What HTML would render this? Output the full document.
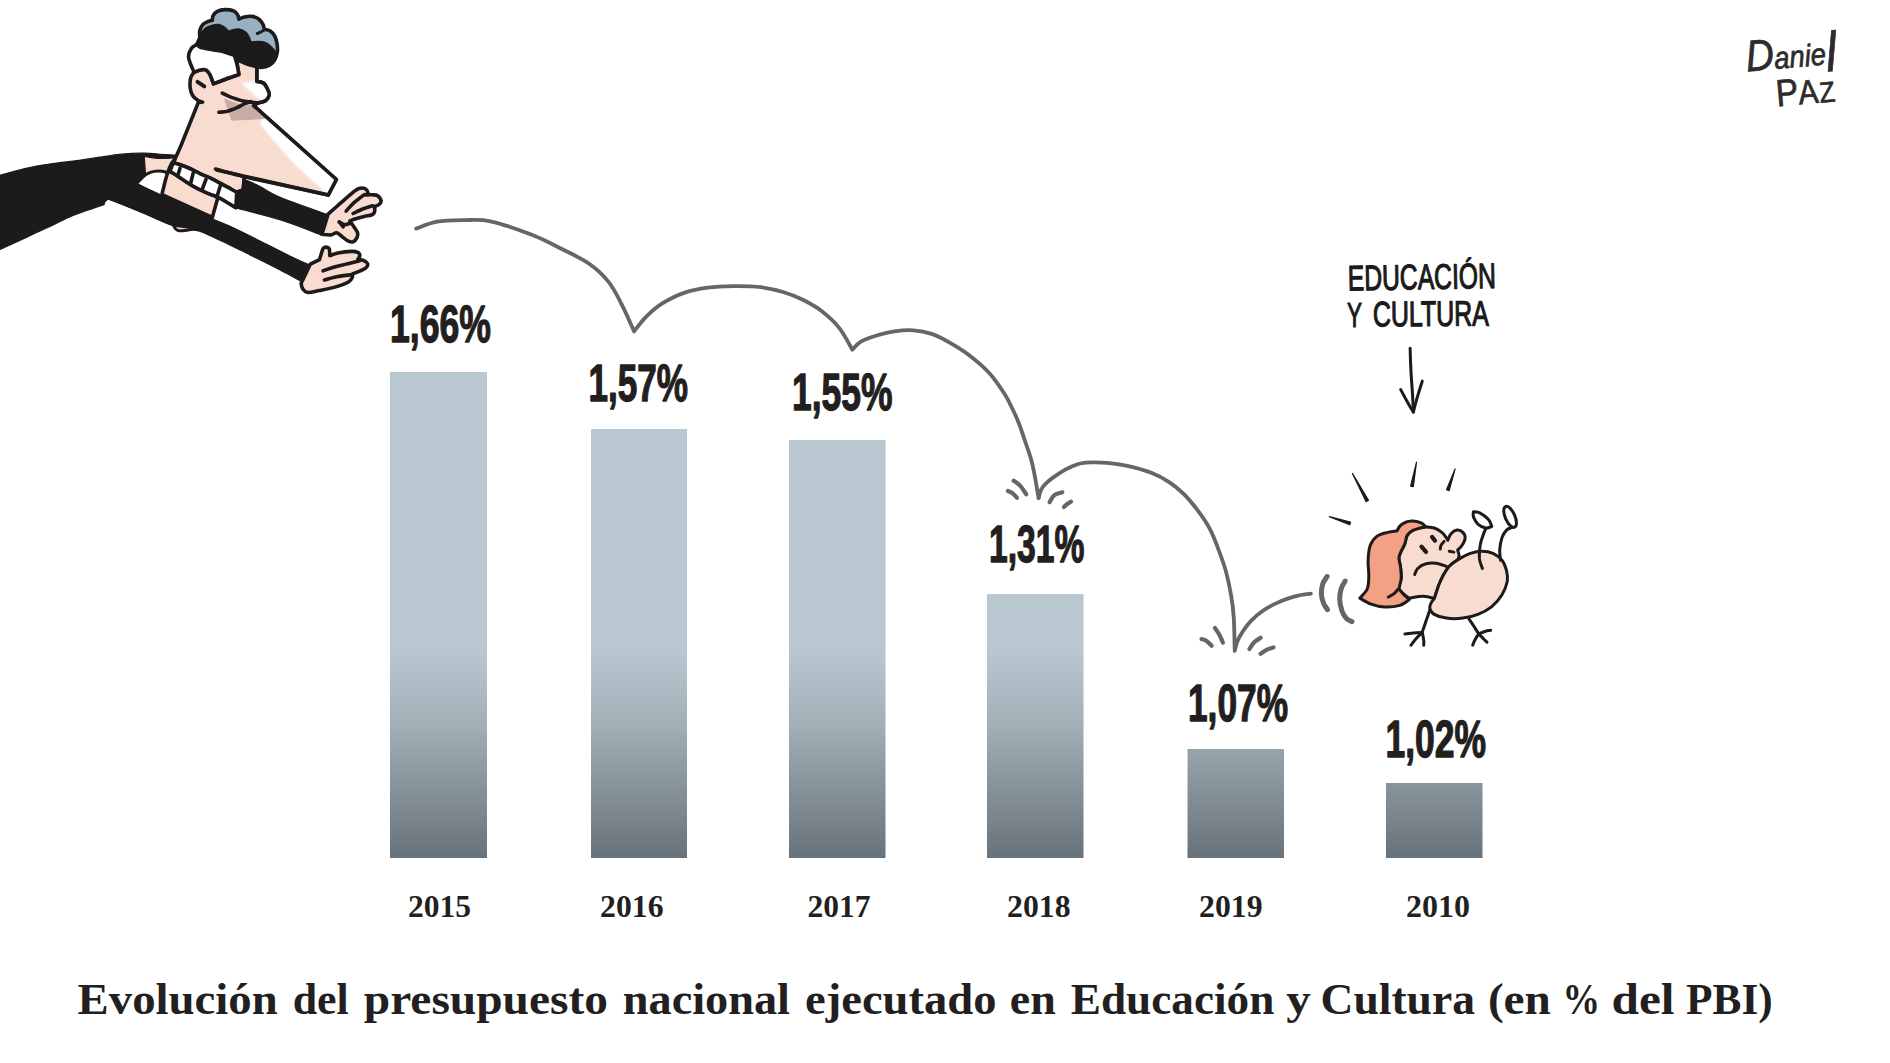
<!DOCTYPE html>
<html lang="es">
<head>
<meta charset="utf-8">
<title>Evolución del presupuesto nacional ejecutado en Educación y Cultura</title>
<style>
html,body{margin:0;padding:0;background:#fff;}
body{width:1890px;height:1063px;overflow:hidden;position:relative;}
svg{position:absolute;left:0;top:0;display:block;}
.pct{font-family:"Liberation Sans","DejaVu Sans Condensed",sans-serif;font-weight:700;font-size:51px;fill:#231f20;stroke:#231f20;stroke-width:1.3px;stroke-linejoin:round;}
.yr{font-family:"Liberation Serif","DejaVu Serif",serif;font-weight:700;font-size:31px;fill:#231f20;}
.cap{font-family:"Liberation Serif","DejaVu Serif",serif;font-weight:700;font-size:43.5px;fill:#231f20;}
.hand{font-family:"Liberation Sans","DejaVu Sans",sans-serif;font-weight:400;fill:#1a1a1a;}
</style>
</head>
<body>
<svg width="1890" height="1063" viewBox="0 0 1890 1063">
<defs>
<linearGradient id="bg" gradientUnits="userSpaceOnUse" x1="0" y1="650" x2="0" y2="858">
<stop offset="0" stop-color="#b9c7d0"/>
<stop offset="0.35" stop-color="#a3b0b8"/>
<stop offset="1" stop-color="#68727a"/>
</linearGradient>
</defs>
<!-- BARS -->
<g id="bars" fill="url(#bg)">
<rect x="390" y="372" width="97" height="486"/>
<rect x="591" y="429" width="96" height="429"/>
<rect x="789" y="440" width="96.500" height="418"/>
<rect x="987" y="594" width="96.500" height="264"/>
<rect x="1187.500" y="749" width="96.500" height="109"/>
<rect x="1386" y="783" width="96.500" height="75"/>
</g>
<!-- PCT LABELS -->
<g id="pcts" class="pct">
<text x="390" y="341.500" textLength="101" lengthAdjust="spacingAndGlyphs">1,66%</text>
<text x="588.500" y="400.500" textLength="99.500" lengthAdjust="spacingAndGlyphs">1,57%</text>
<text x="792" y="409.500" textLength="100.500" lengthAdjust="spacingAndGlyphs">1,55%</text>
<text x="989" y="562" textLength="95.500" lengthAdjust="spacingAndGlyphs">1,31%</text>
<text x="1188" y="720.500" textLength="100" lengthAdjust="spacingAndGlyphs">1,07%</text>
<text x="1385.500" y="756.500" textLength="100.500" lengthAdjust="spacingAndGlyphs">1,02%</text>
</g>
<!-- YEARS -->
<g id="years" class="yr">
<text x="408" y="917" textLength="63" lengthAdjust="spacingAndGlyphs">2015</text>
<text x="600" y="917" textLength="63.500" lengthAdjust="spacingAndGlyphs">2016</text>
<text x="807.500" y="917" textLength="63" lengthAdjust="spacingAndGlyphs">2017</text>
<text x="1007" y="917" textLength="63.500" lengthAdjust="spacingAndGlyphs">2018</text>
<text x="1199" y="917" textLength="63.500" lengthAdjust="spacingAndGlyphs">2019</text>
<text x="1406" y="917" textLength="64" lengthAdjust="spacingAndGlyphs">2010</text>
</g>
<!-- CAPTION -->
<g id="caption" class="cap">
<text x="77.6" y="1014" textLength="200.1" lengthAdjust="spacingAndGlyphs">Evolución</text>
<text x="292.7" y="1014" textLength="56.1" lengthAdjust="spacingAndGlyphs">del</text>
<text x="363.8" y="1014" textLength="244.1" lengthAdjust="spacingAndGlyphs">presupuesto</text>
<text x="622.8" y="1014" textLength="167.2" lengthAdjust="spacingAndGlyphs">nacional</text>
<text x="805.0" y="1014" textLength="191.6" lengthAdjust="spacingAndGlyphs">ejecutado</text>
<text x="1009.8" y="1014" textLength="46.0" lengthAdjust="spacingAndGlyphs">en</text>
<text x="1070.8" y="1014" textLength="203.5" lengthAdjust="spacingAndGlyphs">Educación</text>
<text x="1286.300" y="1014" textLength="24.500" lengthAdjust="spacingAndGlyphs">y</text>
<text x="1320.500" y="1014" textLength="154.500" lengthAdjust="spacingAndGlyphs">Cultura</text>
<text x="1487.9" y="1014" textLength="63.0" lengthAdjust="spacingAndGlyphs">(en</text>
<text x="1562.4" y="1014" textLength="37.6" lengthAdjust="spacingAndGlyphs">%</text>
<text x="1611.5" y="1014" textLength="63.0" lengthAdjust="spacingAndGlyphs">del</text>
<text x="1686.0" y="1014" textLength="86.7" lengthAdjust="spacingAndGlyphs">PBI)</text>
</g>
<!-- CURVE -->
<g id="bounce" fill="none" stroke="#666666" stroke-width="3.800" stroke-linecap="round" stroke-linejoin="round">
<path d="M416.2 228.6C419.7 227.4 429.2 223.1 437.1 221.7C445.1 220.3 454.9 220.3 463.8 220.2C472.7 220.1 479 218.9 490.5 221.3C501.9 223.8 520.3 230.3 532.4 235C544.4 239.7 553.3 244.7 562.9 249.5C572.4 254.3 581.9 258.6 589.5 264C597.1 269.4 603.2 275.1 608.6 281.9C614 288.7 617.7 296.5 621.9 304.8C626.2 313 632.1 327 634.1 331.4C636.2 328.9 642 320.8 646.7 316.2C651.3 311.6 655.6 307.6 661.9 303.6C668.3 299.7 677.1 295.2 684.8 292.6C692.4 289.9 699.4 288.7 707.6 287.6C715.9 286.5 725.4 286.2 734.3 286.1C743.2 286 752.7 286.2 761 287.2C769.2 288.3 776.8 290.1 783.8 292.2C790.8 294.3 796.5 296.6 802.9 299.8C809.2 303 815.9 306.6 821.9 311.2C827.9 315.9 834 321.2 839 327.6C844.1 334 850.2 346 852.4 349.7C853.8 348.4 857 344 860.8 341.7C864.6 339.4 869.7 337.7 875.2 336C880.8 334.3 887.9 332.4 894.3 331.4C900.6 330.5 907 329.8 913.3 330.3C919.7 330.7 926 331.9 932.4 334.1C938.7 336.3 945.1 339.9 951.4 343.6C957.8 347.3 964.1 351.2 970.5 356.2C976.8 361.1 983.8 367 989.5 373.3C995.2 379.7 1000.8 388.2 1004.8 394.3C1008.7 400.4 1010.5 404.9 1013 410C1015.5 415.1 1017.5 419.8 1019.5 425C1021.5 430.2 1023.1 435.3 1025 441C1026.9 446.7 1029.5 453.5 1031 459C1032.6 464.5 1033.5 469.4 1034.4 473.9C1035.3 478.4 1035.8 481.9 1036.5 485.9C1037.2 490 1038.2 496.1 1038.6 498.1"/>
<path d="M1038.6 498.1C1039 496.7 1040 492.1 1041.2 489.7C1042.4 487.3 1043.6 485.8 1045.7 483.7C1047.8 481.5 1050.7 479.2 1054 476.9C1057.3 474.6 1062.1 471.5 1065.3 469.7C1068.4 467.9 1070.3 467.2 1072.8 466.1C1075.3 465.1 1077.2 464.1 1080.3 463.5C1083.5 462.9 1087.2 462.5 1091.6 462.4C1096.1 462.3 1101.3 462.3 1107.1 462.9C1112.9 463.4 1118.8 464 1126.3 465.7C1133.8 467.4 1144.7 470.3 1151.9 473.1C1159.1 475.9 1164.2 478.8 1169.5 482.4C1174.8 485.9 1179.1 489.4 1183.9 494.2C1188.7 499 1193.9 505.3 1198.3 511.2C1202.6 517 1206.6 522.7 1210.1 529.4C1213.6 536 1216.4 544 1219.1 551.1C1221.7 558.2 1224.1 564.5 1226.1 571.9C1228.1 579.4 1229.9 588.2 1231.2 595.9C1232.5 603.6 1233.2 609.1 1233.8 618.3C1234.4 627.5 1234.6 645.5 1234.7 650.9C1235.2 649.2 1236.2 644 1237.6 640.7C1239 637.4 1240.8 634.4 1243 631.1C1245.3 627.8 1247.8 624.2 1251 620.9C1254.2 617.5 1258.2 614.1 1262.2 611.3C1266.2 608.4 1271 605.9 1275 603.9C1279 601.9 1282.2 600.5 1286.2 599.1C1290.2 597.7 1294.9 596.2 1299 595.3C1303.1 594.4 1308.9 593.9 1310.9 593.7"/>
<path stroke-width="4.200" d="M1008 491C1008.7 491.3 1010.6 491.8 1012.1 492.9C1013.6 494 1016.1 496.9 1016.9 497.7"/>
<path stroke-width="4.200" d="M1013.7 480.8C1014.8 481.6 1018 483.3 1020.1 485.6C1022.2 487.8 1025.2 492.8 1026.2 494.2"/>
<path stroke-width="4.200" d="M1049.6 502.2C1050.4 501 1052.2 496.8 1054.3 495.2C1056.5 493.5 1061 492.8 1062.3 492.3"/>
<path stroke-width="4.200" d="M1063.9 507C1064.5 506.5 1066.3 504.7 1067.5 503.8C1068.6 502.9 1070.4 501.9 1071 501.6"/>
<path stroke-width="4.200" d="M1201.5 639.1C1202.3 639.3 1204.6 639.6 1206.3 640.7C1208 641.8 1210.8 644.9 1211.7 645.8"/>
<path stroke-width="4.200" d="M1214.9 627.9C1215.6 629 1217.7 631.8 1219.1 634.3C1220.4 636.7 1222.3 641.2 1222.9 642.6"/>
<path stroke-width="4.200" d="M1249.4 649C1250.2 647.9 1252.4 644.1 1254.2 642.3C1256.1 640.4 1259.6 638.6 1260.6 637.8"/>
<path stroke-width="4.200" d="M1260.6 653.8C1261.7 653.1 1264.9 650.7 1267 649.6C1269.2 648.6 1272.4 647.8 1273.4 647.4"/>
<path stroke-width="5" d="M1327.1 576.5C1326.3 577.9 1323.5 581.4 1322.6 584.4C1321.6 587.5 1321.3 591.4 1321.4 594.6C1321.6 597.8 1322.7 601.1 1323.7 603.6C1324.7 606.1 1326.9 608.7 1327.5 609.7"/>
<path stroke-width="5" d="M1345.1 581.1C1344.5 582.4 1342 585.9 1341.1 589C1340.2 592 1339.6 595.5 1339.7 599.1C1339.8 602.7 1340.7 607.2 1341.8 610.4C1342.8 613.6 1344.6 616.4 1346.3 618.3C1348 620.2 1351 621.1 1351.9 621.7"/>
</g>
<!-- MAN -->
<g id="man" stroke="#1d1a1b" stroke-width="3.600" stroke-linejoin="round" stroke-linecap="round" fill="none">
<path d="M236.7 192.3L243.1 189.9L246.1 180.2C248.4 181.2 254.3 183.6 260 186.5C265.6 189.3 268.6 192.5 280 197.3C291.4 202 320.1 211.9 328.1 214.8L321.1 234.8C314.2 232.3 294.2 224.3 280 219.8C265.8 215.3 243.3 209.8 235.9 207.8L236.7 192.3Z" fill="#1d1a1b" stroke-width="1.200"/>
<path d="M328.1 214.1C329.9 212.5 335 208 339.3 204.2C343.6 200.5 350.5 194.4 353.8 191.7C357.1 189.1 357.2 188.9 359 188.4C360.9 187.9 363.5 188 365 188.7C366.5 189.4 367.8 191.6 368 192.7C368.1 193.7 366.2 194.6 365.9 195C366.9 195 370.2 194.7 372.2 194.8C374.2 194.9 376.3 194.7 377.7 195.7C379.2 196.7 380.9 199.4 381 201C381.2 202.5 379.7 204 378.5 204.9C377.4 205.8 374.9 206.2 374.2 206.5C374.3 207 374.8 208.5 374.8 209.5C374.8 210.6 374.7 211.9 374.2 212.8C373.6 213.7 373.2 214.5 371.5 215C369.9 215.6 366.9 215.8 364.3 216.4C361.7 217 358.2 218 355.7 218.7C353.3 219.5 350.8 220.6 349.8 221C350.5 221.9 352.5 224.7 353.8 226.6C355 228.6 356.9 230.8 357.5 232.6C358 234.4 357.8 235.9 357.1 237.4C356.3 239 354.5 241.2 353.1 241.8C351.7 242.4 350.4 242 348.5 241.1C346.6 240.3 343.9 237.9 341.9 236.5C339.9 235.1 338.5 233.1 336.6 232.8C334.8 232.6 333.2 234.7 330.7 234.9C328.3 235.2 323.4 234.4 321.9 234.3L328.1 214.1Z" fill="#f9dcd0"/>
<path d="M346.1 211.1C347.4 209.7 350.7 205.7 353.8 202.9C356.8 200.2 362.5 196 364.3 194.6"/>
<path d="M353.1 213.5C354.5 212.8 358.4 210.8 361.7 209.5C364.9 208.2 370.7 206.4 372.5 205.8"/>
<path d="M339.3 222C340.2 222.5 342.7 224.4 344.5 224.7C346.3 224.9 349.2 223.6 350.1 223.3"/>
<path d="M339.3 222L343.2 226.9"/>
<path d="M202.6 102.2L198.3 102.5C195.4 109.6 185.1 135.5 181.2 145C177.2 154.5 176.1 156.4 174.8 159.4C173.4 162.3 173.4 162.2 173.2 162.7C174.5 163.1 178.2 164.1 181.2 165.1C184.1 166.2 187.3 167.4 190.8 169C194.2 170.6 198.8 173.1 202 174.6C205.2 176.1 206.6 176.3 210 177.9C213.3 179.5 217.5 181.8 221.9 184.2C226.4 186.6 234.3 191 236.7 192.3L243.1 189.9L244.5 176.8L328.2 195.1L336.4 179.5L253.6 105.6C254.5 105.1 257 103.6 259 102.7C261.1 101.9 264.1 101.8 265.8 100.5C267.5 99.2 268.9 96.7 269.2 94.8C269.5 92.9 268.4 91.2 267.5 89.2C266.5 87.2 265.3 84.3 263.5 83C261.7 81.7 257.9 81.7 256.8 81.5L256.8 66.6L236.4 58.7L238.9 74.5L213.5 83.8C212.9 82.2 211.2 76.8 209.9 74.5C208.7 72.2 207.6 70.7 206 70C204.4 69.2 202.3 69.6 200.3 70C198.3 70.4 195.1 71.9 194.1 72.2C193.5 73.2 191.4 75.3 190.7 77.9C190.1 80.5 189.8 85 190.2 88.1C190.5 91.1 191.7 93.9 193 96C194.3 98 196.5 99.4 198.1 100.5C199.7 101.5 201.8 101.9 202.6 102.2Z" fill="#f9dcd0"/>
<filter id="bl" x="-20%" y="-20%" width="140%" height="140%"><feGaussianBlur stdDeviation="1.300"/></filter>
<g filter="url(#bl)" fill="#ffffff" stroke="none">
<path d="M262.3 115.7L337.1 180L329 194.1C327 192.5 322.8 189.6 317.4 184.9C311.9 180.2 303 172.7 296.2 165.8C289.4 159 282.4 150.9 276.5 144C270.5 137 262.9 127.5 260.2 124.2L262.3 115.7Z"/>
<path d="M241.2 82.9L256.4 81.2C258.5 82.7 266.6 87.8 268.7 90.3C270.7 92.9 269.7 94.6 268.7 96.4C267.6 98.2 263.4 100.4 262.3 101.2C260.9 100.1 256.6 96.9 253.9 94.6C251.2 92.3 248.2 89.5 246.1 87.5C244 85.6 242 83.6 241.2 82.9Z"/>
</g>
<path d="M223.9 98.6L245 106.1L251.7 103.9L265.3 118.9L231.4 120.8L223.9 98.6Z" fill="#c7aba5" stroke="none"/>
<path d="M216.8 170.1L328.2 195.1L336.4 179.5L253.6 105.6"/>
<path d="M222.3 93.1C223.7 93.8 227.3 95.8 230.8 97.1C234.3 98.4 239.6 100.2 243.2 101C246.8 101.9 249.6 102 252.2 102.3C254.9 102.6 256.8 103 259 102.7C261.3 102.4 264.1 101.8 265.8 100.5C267.5 99.2 268.9 96.7 269.2 94.8C269.5 92.9 268.4 91.2 267.5 89.2C266.5 87.2 265.3 84.3 263.5 83C261.7 81.7 257.9 81.7 256.8 81.5L256.8 66.6"/>
<path d="M218.9 112.3C220.4 112.1 224.5 111.9 227.4 111.2C230.3 110.4 233.6 109 236.4 107.8C239.3 106.6 242 104.9 244.3 103.9C246.7 102.8 249.5 102 250.6 101.6"/>
<path d="M197.5 81.8L204.3 86.4" stroke-width="4"/>
<path d="M199.8 37.8C199.8 36.6 199.2 32.7 199.8 30.5C200.3 28.2 201.7 25.8 203.1 24.3C204.6 22.8 206.7 22.1 208.2 21.4C209.8 20.8 211.7 20.5 212.4 20.3C212.5 19.6 212.2 17.3 213 15.8C213.8 14.3 215.2 12.3 217.3 11.3C219.3 10.3 222.5 9.7 225.2 9.6C227.8 9.5 231 9.9 233.1 10.7C235.1 11.6 236.6 13.3 237.6 14.7C238.6 16.1 238.7 18.4 238.9 19.2C239.8 18.8 242.1 17.4 244.3 16.9C246.6 16.5 249.8 16 252.2 16.4C254.7 16.7 257.2 17.9 259 19.2C260.8 20.5 262.1 22.6 263 24.3C263.9 26 264.1 28.5 264.3 29.4C265.3 29.6 268.6 29.9 270.3 31C272.1 32.2 273.7 34 274.8 36.1C276 38.3 276.7 41.4 277.1 44C277.5 46.7 277.7 49.3 277.3 51.9C276.9 54.6 276.2 57.6 274.8 59.8C273.5 62.1 271.4 64.2 269.2 65.5C266.9 66.7 263.7 67.3 261.3 67.4C258.8 67.5 256.8 66.5 254.5 66C252.2 65.5 250 65.1 247.7 64.3C245.5 63.6 242.8 62.5 241 61.5C239.1 60.6 237.2 59.2 236.4 58.7C235.9 58 234.9 55.5 233.1 54.4C231.2 53.3 228.4 52.7 225.2 51.9C222 51.2 218 50.7 213.9 49.9C209.7 49.1 203.1 48.1 200.3 47.2C197.5 46.2 197.5 44.7 196.9 44.3L199.8 37.8Z" fill="#98b0bf"/>
<path d="M200.3 33.9C200.6 33.6 201.1 33.1 202 32.2C203 31.2 204.2 29.4 206 28.2C207.8 27.1 210.7 26 212.7 25.4C214.8 24.8 216.5 24.6 218.4 24.8C220.3 25.1 222.3 25.9 224 27.1C225.8 28.3 228 31 228.8 31.8C229.5 31.5 231.2 30.3 233.1 29.9C234.9 29.5 237.7 28.9 239.8 29.4C242 29.8 244.4 31.2 246 32.7C247.6 34.2 248.6 36.7 249.4 38.4C250.2 40 250.6 41.9 250.8 42.6C251.8 42.4 254.6 41.8 256.8 41.8C258.9 41.7 261.5 41.8 263.5 42.3C265.6 42.9 267.3 43.7 269.2 45.2C271 46.6 273.7 50 274.6 51C275 51.4 276.8 51.6 276.9 53.1C276.9 54.5 276.1 57.8 274.8 59.8C273.5 61.9 271.4 64.2 269.2 65.5C266.9 66.7 263.7 67.3 261.3 67.4C258.8 67.5 256.8 66.5 254.5 66C252.2 65.5 250 65.1 247.7 64.3C245.5 63.6 242.8 62.5 241 61.5C239.1 60.6 237.2 59.2 236.4 58.7C235.9 58 234.9 55.5 233.1 54.4C231.2 53.3 228.4 52.7 225.2 51.9C222 51.2 218 50.7 213.9 49.9C209.7 49.1 203.1 48.1 200.3 47.2C197.5 46.2 197.5 44.7 196.9 44.3C197.4 43.2 199.2 39.5 199.8 37.8C200.3 36.1 200.2 34.5 200.3 33.9Z" fill="#1d1a1b" stroke-width="2"/>
<path d="M257.3 33.5C258 33.2 260.1 32.5 261.3 31.8C262.4 31.2 263.8 30 264.3 29.6" stroke-width="3"/>
<path d="M196.9 44.3C196 45 192.7 46.5 191.3 48.5C189.9 50.6 188.6 53.8 188.5 56.4C188.4 59.1 189.8 61.7 190.7 64.3C191.7 67 193.5 70.9 194.1 72.2C195.1 71.9 198.3 70.4 200.3 70C202.3 69.6 204.4 69.2 206 70C207.6 70.7 208.7 72.2 209.9 74.5C211.2 76.8 212.9 82.2 213.5 83.8C215.5 83 220.9 80.8 225.2 79.2C229.4 77.7 236.6 75.3 238.9 74.5C238.6 72.6 237.4 66.4 236.7 63.2C235.9 60.1 234.8 56.8 234.4 55.5C232.9 55 228.6 53.1 225.2 52.2C221.7 51.2 218 50.7 213.9 49.9C209.7 49.1 203.1 48.1 200.3 47.2C197.5 46.2 197.5 44.7 196.9 44.3Z" fill="#ffffff"/>
<path d="M144.2 156.3C146.5 156.7 153.2 158.2 158 158.4C162.8 158.7 170.3 158.1 172.7 158L166.6 172.4C165.1 172 161.5 170.1 158 170.3C154.5 170.5 147.6 173.1 145.5 173.7L144.2 156.3Z" fill="#f9dcd0" stroke="none"/>
<path d="M0 175.4C2.2 174.8 7.7 172.9 13.2 171.5C18.7 170 26.3 168.2 32.9 166.9C39.5 165.5 45 164.7 52.7 163.6C60.3 162.5 70.2 161.5 79 160.3C87.8 159.1 98.7 157.3 105.3 156.3C111.9 155.3 114.1 154.8 118.5 154.4C122.9 153.9 127.3 153.6 131.7 153.4C136.1 153.2 140.4 153.1 144.8 153.2C149.2 153.3 152.8 153.6 158 154C163.2 154.3 172.8 155.1 175.8 155.3L172.7 158C170.3 158.1 162.8 158.7 158 158.4C153.2 158.2 146.5 156.7 144.2 156.3L145.5 173.7L136.9 183.3L190.3 209.2L197.8 230.6C193.8 229.8 182.5 228.6 173.7 225.8C165 223 154.3 217.6 145.1 213.7C135.9 209.9 124.7 205.2 118.5 202.7C112.3 200.2 109.9 199.4 108.2 198.7C107.7 199.3 105.6 201 104.9 202C104.2 203 104.2 204.2 104 204.7C102 205.3 97.4 206.7 92.2 208.6C86.9 210.5 79 213.1 72.4 215.8C65.8 218.6 59.2 222 52.7 225.1C46.1 228.1 39.5 231.2 32.9 234.3C26.3 237.4 18.7 241 13.2 243.5C7.7 246 2.2 248.4 0 249.4L0 175.4Z" fill="#1d1a1b" stroke-width="1.200"/>
<path d="M136.8 183.4C138.3 181.9 143.1 176.6 146 174.6C148.9 172.6 151.3 171.9 154 171.4C156.7 170.8 159.8 171 162 171.2C164.1 171.4 166 172.4 166.8 172.6L162 194.2L136.8 183.4Z" fill="#ffffff" stroke="none"/>
<path d="M136.8 183.4C138.3 181.9 143.1 176.6 146 174.6C148.9 172.6 151.3 171.9 154 171.4C156.7 170.8 159.8 171 162 171.2C164.1 171.4 166 172.4 166.8 172.6" stroke-width="3"/>
<path d="M174.8 159.4C174.2 160.1 172.8 161.1 171.6 163.4C170.4 165.7 168.9 169 167.6 173C166.2 177 164.5 183.7 163.6 187.4C162.6 191 162.2 193.5 162 194.7L212.3 217.4L217.9 197.4C216.6 196.8 212.6 195.3 210 194.2C207.3 193 204.6 191.8 202 190.6C199.3 189.3 196.6 188 194 186.6C191.3 185.1 188.6 183.5 186 181.8C183.3 180 180.6 177.9 178 176.2C175.3 174.4 171.3 172.2 170 171.4L173.2 162.7L174.8 159.4Z" fill="#f9dcd0"/>
<path d="M173.2 162.7C174.5 163.1 178.2 164.1 181.2 165.1C184.1 166.2 187.3 167.4 190.8 169C194.2 170.6 198.8 173.1 202 174.6C205.2 176.1 206.6 176.3 210 177.9C213.3 179.5 217.5 181.8 221.9 184.2C226.4 186.6 234.3 191 236.7 192.3L235.9 207.8C232.9 206 222.3 199.4 217.9 197.1C213.6 194.9 212.6 195.3 210 194.2C207.3 193.1 204.6 191.8 202 190.6C199.3 189.3 196.6 188 194 186.6C191.3 185.1 188.6 183.5 186 181.8C183.3 180 180.6 177.9 178 176.2C175.3 174.4 171.3 172.2 170 171.4L173.2 162.7Z" fill="#ffffff"/>
<path d="M180 168.2L178 174.7"/>
<path d="M193.2 173L190.8 182.7"/>
<path d="M206 179.4L202 189.9"/>
<path d="M220.3 185.8L217.1 196.3"/>
<path d="M215.5 169C217.9 169.7 225.1 171.8 229.9 173.1C234.8 174.4 242.1 176.2 244.5 176.8L243.1 189.9L236.7 192.3"/>
<path d="M136.8 183.4C141.2 185.7 154.3 192.9 163.2 197.2C172.1 201.5 181.8 205.5 190.3 209.2C198.8 213 206.8 216.5 214.4 219.8C221.9 223 226.9 224.8 235.4 228.8C244 232.8 255.5 238.8 265.5 243.8C275.6 248.8 288.2 255.3 295.6 258.9C303 262.4 307.5 264.1 309.9 265.2L300.9 281.1C297.5 279.3 289 274.5 280.6 270.2C272.2 265.8 260.5 260.1 250.5 255.1C240.4 250.2 229.2 244.6 220.4 240.5C211.6 236.4 205.6 233 197.8 230.6C190 228.1 182.5 228.6 173.7 225.8C165 223 155.9 218.1 145.1 213.7C134.4 209.3 115.8 201.7 109 199.4C102.3 197.2 105.3 200.1 104.5 200.2L100 185.1L136.8 183.4Z" fill="#1d1a1b" stroke-width="1.200"/>
<path d="M173.4 225.2C173.7 225.7 174.3 227.6 175.2 228.5C176.2 229.4 176.9 230.5 179 230.7C181.1 231 184.9 230.4 188 230C191.1 229.6 195.9 228.5 197.5 228.2L173.4 225.2Z" fill="#f9dcd0" stroke-width="3"/>
<path d="M310.3 264.2L319.5 259.6C319.9 258.3 321.3 253.5 321.9 251.7C322.5 249.8 322.5 249.3 323.2 248.5C323.9 247.7 325.1 247 326.1 247.1C327.1 247.1 328.6 247.6 329.3 249C329.9 250.5 329.7 254.5 329.8 255.6C331.2 255.2 334.4 253.7 338 253C341.5 252.3 347.8 251.5 351.1 251.4C354.4 251.3 356.3 251.6 357.7 252.3C359.2 253 359.8 254.5 359.8 255.6C359.9 256.7 358.3 258.5 358 259C359 259.4 362.7 260.1 364.3 260.9C365.9 261.7 367.5 262.6 367.7 263.8C367.9 265 367.1 266.9 365.6 268.1C364.2 269.4 361.3 270.4 359 271.4C356.8 272.4 353.3 273.6 352.2 274.1C352.2 274.5 353.1 275.6 352.4 277C351.8 278.3 351.1 280.4 348.5 282C345.9 283.6 341.5 285.1 336.6 286.6C331.8 288 324.3 289.5 319.5 290.5C314.7 291.5 310.5 292.8 307.7 292.5C304.9 292.2 303.8 290.3 302.7 288.8C301.6 287.3 301.3 284.4 301.1 283.5L310.3 264.2Z" fill="#f9dcd0"/>
<path d="M323.1 270.8C325.1 270.1 330.2 268.2 335.3 266.8C340.4 265.4 349.8 263.2 353.8 262.2C357.8 261.2 358.4 261.1 359.3 260.9"/>
<path d="M324.4 280C326.4 279.4 332 277.6 336.6 276.7C341.3 275.8 349.5 275 352.1 274.7"/>
</g>
<!-- CHICKEN -->
<g id="chick" stroke="#1d1a1b" stroke-width="3" stroke-linejoin="round" stroke-linecap="round" fill="none">
<path d="M1434.3 598.6C1433.3 601.2 1430.3 608.7 1428.3 614.4C1426.3 620 1423.2 629.4 1422.2 632.4"/>
<path d="M1422.2 632.4C1420.7 632.5 1416.1 632.8 1413.2 633C1410.3 633.3 1406.3 633.8 1404.9 633.9"/>
<path d="M1422.2 632.4C1421.2 633.4 1418.1 636.3 1416.2 638.5C1414.3 640.6 1411.8 644.1 1411 645.2"/>
<path d="M1422.2 632.4C1422.5 633.7 1423.5 637.8 1423.7 640C1424 642.1 1423.7 644.4 1423.7 645.2"/>
<path d="M1468.9 618.9C1469.9 620.4 1473.3 625.4 1474.9 627.9C1476.5 630.4 1478.1 632.9 1478.7 633.9"/>
<path d="M1478.7 633.9C1479.8 633.5 1483.4 631.8 1485.5 631.2C1487.5 630.6 1489.8 630.5 1490.7 630.3"/>
<path d="M1478.7 633.9C1478.1 634.9 1475.9 638.1 1474.9 640C1473.9 641.8 1473 644.4 1472.7 645.2"/>
<path d="M1478.7 633.9C1479.6 634.8 1482.6 637.8 1483.9 639.2C1485.3 640.6 1486.5 641.7 1487 642.2"/>
<path d="M1425.3 526.8C1426.8 527 1431.5 527.1 1434.3 528C1437 528.9 1439.8 530.8 1441.8 532.4C1443.8 534 1445.3 536.3 1446.3 537.6C1447.3 539 1447.6 539.9 1447.8 540.3C1448.3 539.3 1449.3 535.7 1450.8 534C1452.3 532.3 1454.8 530.4 1456.9 530.1C1458.9 529.8 1461.5 531 1462.9 532.4C1464.3 533.7 1465.3 536.2 1465.1 538.4C1465 540.5 1463.4 543.2 1462.1 545.2C1460.9 547.1 1458.4 549.2 1457.6 550C1457.9 550.9 1459.1 554 1459.1 555.7C1459.1 557.3 1457.9 559.2 1457.6 559.9C1456.2 561 1451.7 563.7 1449.3 566.2C1446.9 568.8 1445.1 572.1 1443.3 575.3C1441.6 578.4 1440.3 581.1 1438.8 585C1437.3 588.9 1435 596.3 1434.3 598.6C1432.5 598.2 1428 596.4 1423.7 596.3C1419.5 596.2 1411.2 597.8 1408.7 598.1C1407.1 596.6 1400.2 592.1 1398.9 588.8C1397.7 585.5 1400.9 582 1401.2 578.3C1401.4 574.5 1400.8 569.6 1400.4 566.2C1400 562.8 1398.8 560.5 1398.9 557.9C1399 555.4 1400.2 553.6 1401.2 551.2C1402.2 548.8 1403.9 546.3 1404.9 543.6C1405.9 541 1405.8 537.6 1407.2 535.4C1408.6 533.1 1410.2 531.5 1413.2 530.1C1416.2 528.7 1423.2 527.3 1425.3 526.8Z" fill="#f9dcd0"/>
<path d="M1438.8 585C1439.5 583.4 1441.6 578.4 1443.3 575.3C1445.1 572.1 1446.8 568.9 1449.3 566.2C1451.8 563.6 1454.8 561.6 1458.4 559.4C1461.9 557.3 1466.4 554.8 1470.4 553.4C1474.4 552 1478.7 551.2 1482.4 551.2C1486.2 551.2 1489.7 551.9 1493 553.4C1496.2 554.9 1499.7 557.3 1502 560.2C1504.3 563.1 1505.6 567.2 1506.5 570.7C1507.4 574.2 1508 577.3 1507.3 581.3C1506.5 585.3 1504.6 590.6 1502 594.8C1499.4 599.1 1495.5 603.6 1491.5 606.9C1487.5 610.1 1482.7 612.5 1477.9 614.4C1473.2 616.3 1468.1 617.5 1462.9 618.1C1457.6 618.8 1451.1 618.8 1446.3 618.1C1441.6 617.5 1437 616 1434.3 614.4C1431.5 612.8 1430.3 610.3 1429.8 608.4C1429.3 606.4 1430.5 604.3 1431.3 602.6C1432 601 1433.8 599.3 1434.3 598.6L1438.8 585Z" fill="#f9dcd0"/>
<path d="M1359.8 598.1C1361 596.6 1365.8 592.6 1367.3 588.8C1368.8 585 1368.7 580 1368.8 575.3C1368.9 570.5 1367.8 565.2 1368.1 560.2C1368.3 555.2 1368.8 549.2 1370.3 545.2C1371.8 541.1 1374.2 538.3 1377.1 536.1C1380 534 1384.3 533.2 1387.6 532.4C1390.9 531.5 1395.4 531.1 1397 530.9C1397.7 529.8 1399 526.5 1401.2 524.8C1403.4 523.2 1406.9 521.4 1410.2 521.1C1413.5 520.7 1418.2 521.6 1420.7 522.6C1423.3 523.5 1424.7 526.1 1425.6 526.8C1423.5 527.3 1416.3 528.7 1413.2 530.1C1410.2 531.5 1408.6 533.1 1407.2 535.4C1405.8 537.6 1405.9 541 1404.9 543.6C1403.9 546.3 1402.2 548.8 1401.2 551.2C1400.2 553.6 1399 555.4 1398.9 557.9C1398.8 560.5 1400 562.8 1400.4 566.2C1400.8 569.6 1401.4 574.5 1401.2 578.3C1400.9 582 1399.3 587 1398.9 588.8C1399.7 589.7 1401.7 592.3 1403.4 594.1C1405.2 595.9 1408.4 598.7 1409.4 599.6C1407.8 600.6 1403.8 604.1 1399.7 605.4C1395.5 606.6 1389.4 607.1 1384.6 606.9C1379.8 606.7 1375.2 605.6 1371.1 604.1C1366.9 602.7 1361.7 599.1 1359.8 598.1Z" fill="#f3a184"/>
<path d="M1388.4 597.1C1389.4 596.4 1392.8 594.6 1394.4 593.3C1396 592 1397.5 589.8 1398.2 589.1"/>
<path d="M1414.7 574.5C1415.2 573.5 1416 570.2 1417.7 568.5C1419.5 566.7 1422.2 564.8 1425.3 564C1428.3 563.1 1432.3 562.8 1435.8 563.2C1439.3 563.6 1444.6 565.7 1446.3 566.2"/>
<path d="M1432 536.9L1435 540.6" stroke-width="4.200"/>
<path d="M1421.5 546.7L1426 551.9" stroke-width="4.200"/>
<path d="M1440.3 548.9C1440.4 548.3 1440.4 546.4 1441.1 545.2C1441.7 543.9 1443.6 542 1444.1 541.4"/>
<path d="M1449.3 551.2L1453.8 552.1"/>
<path d="M1482.4 568.5C1481.9 566.8 1479.8 562.6 1479.4 558.7C1479.1 554.8 1479.4 549.4 1480.2 545.2C1480.9 540.9 1482.9 536 1483.9 533.1C1484.9 530.2 1485.8 528.7 1486.2 527.8"/>
<path d="M1500.5 560.2C1500.4 558.4 1499.5 553.4 1499.7 549.7C1500 545.9 1500.9 540.9 1502 537.6C1503.1 534.4 1504.9 531.8 1506.5 530.1C1508.2 528.4 1510.9 527.8 1511.8 527.4"/>
<path d="M1473.4 511.7C1474.5 511.9 1477.2 511.6 1479.7 512.9C1482.2 514.2 1486.5 517.3 1488.5 519.6C1490.5 521.8 1491.2 525.3 1491.8 526.5C1490.7 526.7 1487.8 528.4 1485.5 528C1483.1 527.6 1479.9 525.9 1477.9 524.1C1475.9 522.2 1474.2 518.9 1473.4 516.9C1472.7 514.8 1473.4 512.6 1473.4 511.7Z" fill="#ffffff"/>
<ellipse cx="1510.1" cy="516.9" rx="4.800" ry="11.300" transform="rotate(-24 1510.1 516.9)" fill="#ffffff"/>
<path d="M1352.4 473.4L1366 501.6L1368.5 500.3Z" fill="#1d1a1b" stroke-width="1.200"/>
<path d="M1416.5 462.1L1410.6 486.2L1413.3 486.7Z" fill="#1d1a1b" stroke-width="1.200"/>
<path d="M1455.1 468.9L1446.5 489.7L1449.2 490.6Z" fill="#1d1a1b" stroke-width="1.200"/>
<path d="M1329.3 516.7L1349.7 524.8L1350.5 522.2Z" fill="#1d1a1b" stroke-width="1.200"/>
</g>
<!-- HANDWRITING -->
<g fill="none" stroke="#1d1a1b" stroke-width="3" stroke-linecap="round" stroke-linejoin="round">
<path d="M1410.1 348.2C1410.2 352.1 1410.6 364 1411 371.7C1411.4 379.4 1412.1 387.5 1412.5 394.3C1412.9 401 1413.3 409.2 1413.4 412.1"/>
<path d="M1400.7 389.6C1401.6 391.3 1404.2 396.2 1406.3 399.9C1408.4 403.7 1412.1 410.1 1413.3 412.1C1414 409.5 1416.1 401.3 1417.6 396.2C1419.1 391 1421.5 383.6 1422.3 381.1"/>
</g>
<g class="hand" font-size="35.500" stroke="#1a1a1a" stroke-width="1.200" stroke-linejoin="round">
<text x="1348" y="290.500" textLength="148" lengthAdjust="spacingAndGlyphs" transform="rotate(-1 1348 290)">EDUCACIÓN</text>
<text x="1347" y="326.500" textLength="15" lengthAdjust="spacingAndGlyphs">Y</text>
<text x="1373" y="326.500" textLength="116" lengthAdjust="spacingAndGlyphs" transform="rotate(-0.500 1373 326)">CULTURA</text>
</g>
<g fill="#2e2b2c" stroke="#2e2b2c" stroke-width="0.700" font-family="'Liberation Sans','DejaVu Sans',sans-serif">
<text x="1747" y="71.500" font-style="italic" textLength="91" lengthAdjust="spacingAndGlyphs" transform="rotate(-5 1747 71.500)"><tspan font-size="44">D</tspan><tspan font-size="31">anie</tspan><tspan font-size="56" dy="7">l</tspan></text>
<text x="1777" y="106.500" textLength="59" lengthAdjust="spacingAndGlyphs" transform="rotate(-5 1777 106.500)"><tspan font-size="38">P</tspan><tspan font-size="34">A</tspan><tspan font-size="29" dx="1">Z</tspan></text>
</g>
</svg>
</body>
</html>
